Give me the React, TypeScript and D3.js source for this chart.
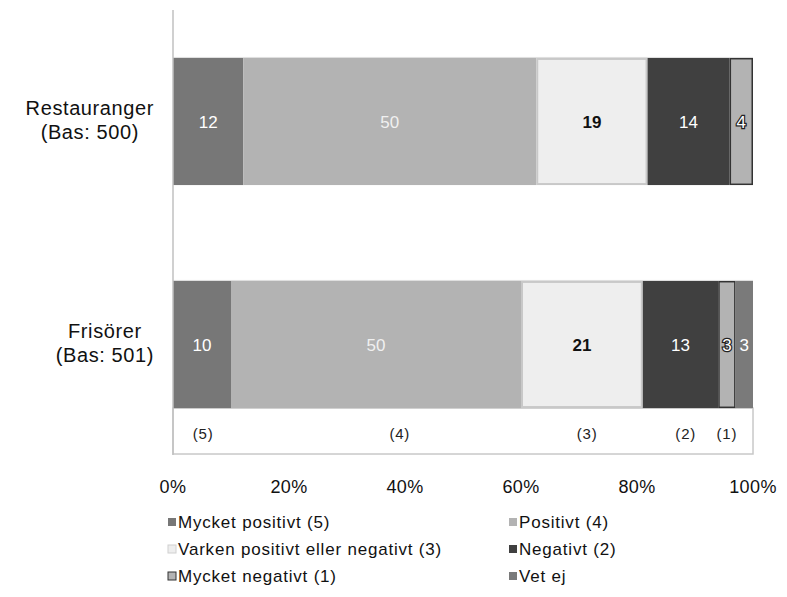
import React, { useEffect, useRef } from "react";
import * as d3 from "d3";

const categories = ["Restauranger|(Bas: 500)", "Frisörer|(Bas: 501)"];
const seriesKeys = ["Mycket positivt (5)", "Positivt (4)", "Varken positivt eller negativt (3)", "Negativt (2)", "Mycket negativt (1)", "Vet ej"];
const restaurangerValues = [12, 50, 19, 14, 4, 0];
const frisorerValues = [10, 50, 21, 13, 3, 3];
const xTicks = [0, 0.2, 0.4, 0.6, 0.8, 1];
const scaleLabels = ["(5)", "(4)", "(3)", "(2)", "(1)"];
const scaleLabelPos = [0.052, 0.391, 0.714, 0.884, 0.955];

const fills = ["#777777", "#b3b3b3", "#eeeeee", "#404040", "#b3b3b3", "#7a7a7a"];
const strokes = ["none", "none", "#c8c8c8", "none", "#333333", "none"];
const labelColors = ["#ffffff", "#f0f0f0", "#111111", "#ffffff", "#ffffff", "#ffffff"];
const labelWeights = ["normal", "normal", "bold", "normal", "normal", "normal"];

const W = 787, H = 597;
const FONT = "'Liberation Sans', Arial, sans-serif";

export default function App() {
  const ref = useRef<SVGSVGElement>(null);
  useEffect(() => {
    const svg = d3.select(ref.current);
    svg.selectAll("*").remove();
    const rows = categories.map((c, i) => {
      const vals = i === 0 ? restaurangerValues : frisorerValues;
      const o: any = { cat: c };
      seriesKeys.forEach((k, j) => (o[k] = vals[j]));
      return o;
    });
    const stack = d3.stack<any>().keys(seriesKeys).offset(d3.stackOffsetExpand);
    const layers = stack(rows);
    const x = d3.scaleLinear().domain([0, 1]).range([173, 753]);
    const y = d3.scaleBand().domain(categories).range([10, 456]).paddingInner(0.43).paddingOuter(0.215);

    // annotation box under second bar
    const lastCat = categories[1];
    const boxTop = (y(lastCat) as number) + y.bandwidth();
    svg.append("rect").attr("x", x(0)).attr("y", boxTop).attr("width", x(1) - x(0)).attr("height", 454 - boxTop)
      .attr("fill", "#fff").attr("stroke", "#c8c8c8").attr("stroke-width", 1.5);

    // bars
    layers.forEach((layer, li) => {
      const g = svg.append("g");
      layer.forEach((d: any) => {
        const w = x(d[1]) - x(d[0]);
        if (w <= 0) return;
        const sw = strokes[li] === "none" ? 0 : (li === 4 ? 1.5 : 2);
        g.append("rect")
          .attr("x", x(d[0]) + sw / 2).attr("y", (y(d.data.cat) as number) + sw / 2)
          .attr("width", w - sw).attr("height", y.bandwidth() - sw)
          .attr("fill", fills[li]).attr("stroke", strokes[li]).attr("stroke-width", sw);
      });
    });
    // thin light line at top of bars
    categories.forEach((c) => {
      svg.append("line").attr("x1", x(0)).attr("x2", x(1)).attr("y1", (y(c) as number) - 0.5).attr("y2", (y(c) as number) - 0.5)
        .attr("stroke", "#dddddd").attr("stroke-width", 1);
    });
    // labels
    layers.forEach((layer, li) => {
      layer.forEach((d: any) => {
        const v = d.data[seriesKeys[li]];
        if (!v) return;
        const cx = (x(d[0]) + x(d[1])) / 2;
        const cy = (y(d.data.cat) as number) + y.bandwidth() / 2;
        const t = svg.append("text").attr("x", cx).attr("y", cy + 6).attr("text-anchor", "middle")
          .attr("font-family", FONT).attr("font-size", 17).attr("font-weight", labelWeights[li])
          .attr("fill", labelColors[li]).text(v);
        if (li === 4) t.attr("stroke", "#222").attr("stroke-width", 2.5).attr("paint-order", "stroke");
      });
    });
    // vertical axis line
    svg.append("line").attr("x1", x(0)).attr("x2", x(0)).attr("y1", 10).attr("y2", 455)
      .attr("stroke", "#c0c0c0").attr("stroke-width", 1.5);

    // category labels
    categories.forEach((c) => {
      const lines = c.split("|");
      const bc = (y(c) as number) + y.bandwidth() / 2;
      const texts = lines.map((l, i) =>
        svg.append("text").attr("y", bc - 7 + i * 24).attr("text-anchor", "middle")
          .attr("font-family", FONT).attr("font-size", 20).attr("letter-spacing", 0.6).attr("fill", "#111").text(l));
      const widths = texts.map((t) => (t.node() as SVGTextElement).getComputedTextLength());
      const maxW = Math.max(...widths);
      texts.forEach((t) => t.attr("x", 154 - maxW / 2));
    });

    // scale labels
    scaleLabels.forEach((s, i) => {
      svg.append("text").attr("x", x(scaleLabelPos[i])).attr("y", 439).attr("text-anchor", "middle")
        .attr("font-family", FONT).attr("font-size", 15).attr("letter-spacing", 0.8).attr("fill", "#222").text(s);
    });

    // x ticks
    xTicks.forEach((t) => {
      svg.append("text").attr("x", x(t)).attr("y", 493).attr("text-anchor", "middle")
        .attr("font-family", FONT).attr("font-size", 18).attr("letter-spacing", 0.4).attr("fill", "#111").text(d3.format(".0%")(t));
    });

    // legend
    seriesKeys.forEach((k, i) => {
      const col = i % 2, row = Math.floor(i / 2);
      const lx = col === 0 ? 168 : 509;
      const ly = 522 + row * 27;
      svg.append("rect").attr("x", lx).attr("y", ly - 4).attr("width", 8).attr("height", 8)
        .attr("fill", fills[i]).attr("stroke", i === 4 ? "#333" : i === 2 ? "#d0d0d0" : "none").attr("stroke-width", 1);
      svg.append("text").attr("x", lx + 10).attr("y", ly + 6).attr("font-family", FONT).attr("font-size", 17)
        .attr("letter-spacing", 0.8).attr("fill", "#111").text(k);
    });
  }, []);
  return (
    <svg ref={ref} width={W} height={H} style={{ position: "absolute", left: 0, top: 0, background: "#fff" }} />
  );
}
